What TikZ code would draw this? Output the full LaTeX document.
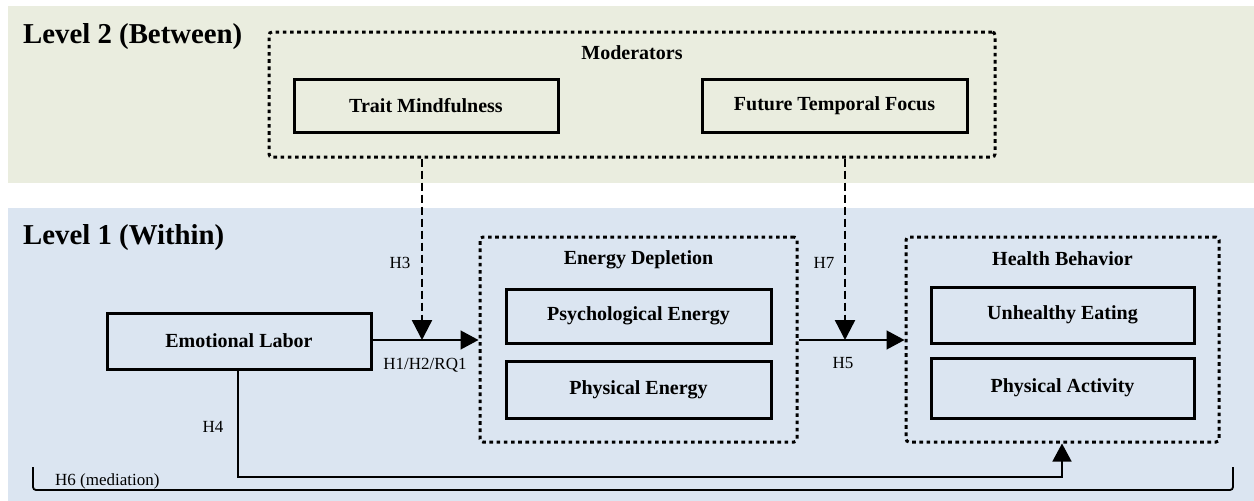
\documentclass[tikz,border=0pt]{standalone}
\usepackage{fontspec}
\setmainfont{Liberation Serif}
\usetikzlibrary{arrows.meta,calc}
\definecolor{bandtwo}{HTML}{EAEDDF}
\definecolor{bandone}{HTML}{DBE5F1}
\begin{document}
\begin{tikzpicture}[x=1pt,y=-1pt,
  box/.style={draw,line width=3pt,inner sep=0pt,font=\fontsize{20}{22}\selectfont\bfseries},
  group/.style={draw,line width=3pt,inner sep=0pt,dash pattern=on 3.6pt off 3.6pt,rounded corners=3pt},
  gtitle/.style={font=\fontsize{20}{22}\selectfont\bfseries,inner sep=0pt},
  lvl/.style={font=\fontsize{28.8}{32}\selectfont\bfseries,inner sep=0pt,anchor=base west},
  hlab/.style={font=\fontsize{17}{19}\selectfont,inner sep=0pt},
  link/.style={line width=1.4pt,-{Triangle[length=18pt,width=19pt]}},
  modlink/.style={line width=2.4pt,dash pattern=on 8pt off 4pt,-{Triangle[length=20pt,width=20pt]}},
  brace/.style={line width=1.8pt,rounded corners=3pt}]
\useasboundingbox (0,0) rectangle (1254,501);
% bands
\fill[bandtwo] (8,6) rectangle (1254,183);
\fill[bandone] (8,208) rectangle (1254,501);
\node[lvl] (l2) at (23,43) {Level 2 (Between)};
\node[lvl] (l1) at (23,244) {Level 1 (Within)};
% moderators
\node[group,minimum width=726pt,minimum height=125pt] (mod) at (632,94.5) {};
\node[gtitle] (modt) at (632,53) {Moderators};
\node[box,minimum width=264pt,minimum height=53pt] (tm) at (426,105.5) {Trait Mindfulness};
\node[box,minimum width=265pt,minimum height=53pt] (ftf) at (834.5,105.5) {Future Temporal Focus};
% level 1
\node[box,minimum width=264pt,minimum height=56pt] (el) at (239,341) {Emotional Labor};
\node[group,minimum width=317pt,minimum height=205pt] (ed) at (638.5,339.5) {};
\node[gtitle] (edt) at (638.5,260) {Energy Depletion};
\node[box,minimum width=265pt,minimum height=54pt] (pe) at (638.5,316) {Psychological Energy};
\node[box,minimum width=265pt,minimum height=57pt] (phe) at (638.5,389.5) {Physical Energy};
\node[group,minimum width=313pt,minimum height=205pt] (hb) at (1062.5,339.5) {};
\node[gtitle] (hbt) at (1062.5,259) {Health Behavior};
\node[box,minimum width=263pt,minimum height=56pt] (ue) at (1062.5,315) {Unhealthy Eating};
\node[box,minimum width=263pt,minimum height=60pt] (pa) at (1062.5,388) {Physical Activity};
% connectors
\coordinate (j1) at (422,340);
\coordinate (j2) at (845,340);
\coordinate (c1) at (238,477);
\coordinate (c2) at (1062,477);
\draw[link] (el.east |- j1) -- (ed.west |- j1);
\draw[link] (ed.east |- j2) -- (hb.west |- j2);
\draw[modlink] (mod.south -| j1) -- (j1);
\draw[modlink] (mod.south -| j2) -- (j2);
\draw[link] (el.south -| c1) -- (c1) -- (c2) -- (hb.south -| c2);
\coordinate (b1) at (33,467);
\coordinate (b2) at (1233,467);
\draw[brace] (b1) -- (b1 |- 0,490) -- (b2 |- 0,490) -- (b2);
% labels
\node[hlab] (h3) at (400,263) {H3};
\node[hlab] (h1) at (425,365) {H1/H2/RQ1};
\node[hlab] (h7) at (824,263) {H7};
\node[hlab] (h5) at (843,363) {H5};
\node[hlab] (h4) at (213,427) {H4};
\node[hlab,anchor=west] (h6) at (55,481) {H6 (mediation)};
\end{tikzpicture}
\end{document}
